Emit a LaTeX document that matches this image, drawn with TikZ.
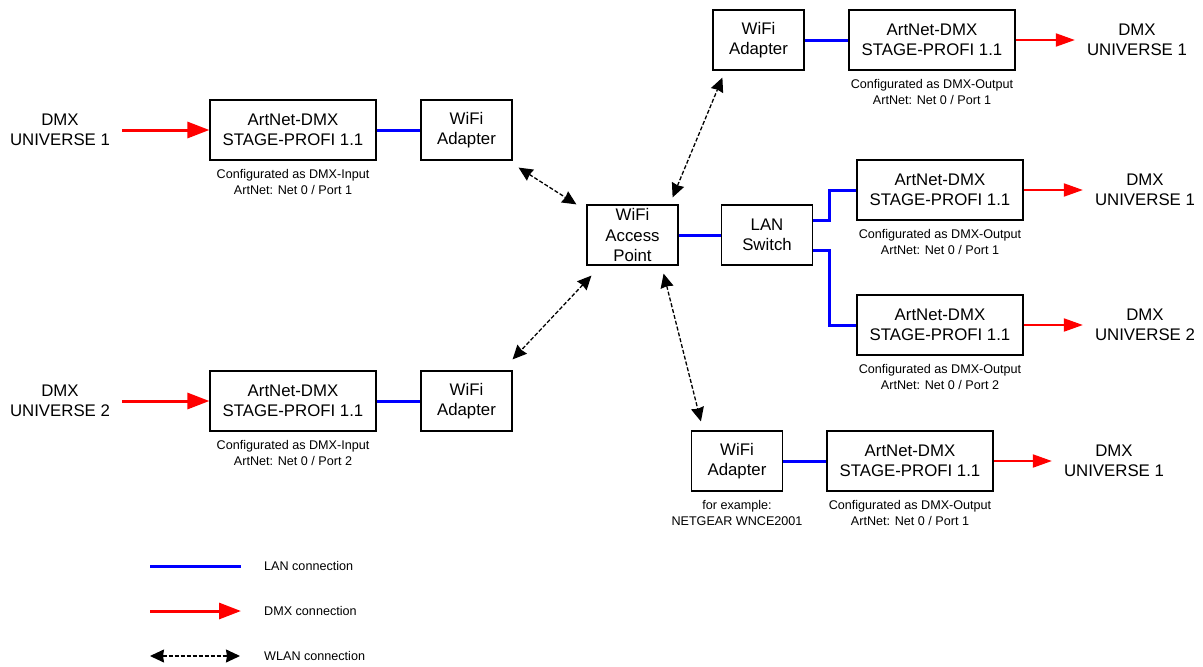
\documentclass[tikz,border=0pt]{standalone}
\usepackage{fontspec}
\setmainfont{Liberation Sans}
\usetikzlibrary{arrows.meta,positioning}
\newcommand\boxfont{\fontsize{16.8}{20.5}\selectfont}
\newcommand\notefont{\fontsize{12.6}{16}\selectfont}
\begin{document}
\begin{tikzpicture}
[ x=1pt, y=-1pt
, device/.style={rectangle, draw, line width=1.2pt, minimum height=60pt, inner ysep=0pt, align=center, font=\boxfont}
, artnet/.style={device, minimum width=166pt}
, wifi/.style={device, minimum width=91pt}
, universe/.style={align=center, font=\boxfont, inner xsep=12pt}
, note/.style={align=center, font=\notefont, inner sep=2pt}
, lan/.style={draw=blue, line width=3pt}
, dmx/.style={draw=red, line width=3pt, -{Triangle[length=22pt,width=16pt]}}
, dmxout/.style={draw=red, line width=2pt, -{Triangle[length=19pt,width=13pt]}}
, wlan/.style={line width=1.3pt, dash pattern=on 4pt off 2pt, {Stealth[length=14pt,width=13pt,inset=1pt]}-{Stealth[length=14pt,width=13pt,inset=1pt]}}
]
\useasboundingbox (0,0) rectangle (1203,667);
% Input side:
\node (u1) [universe] at (60,130) {DMX\\UNIVERSE 1};
\node (an1) [artnet] at (293,130) {ArtNet-DMX\\STAGE-PROFI 1.1};
\node (wa1) [wifi] at (466.5,130) {WiFi\\Adapter};
\node (n1) [note, below=7pt of an1] {Configurated as DMX-Input\\ArtNet: Net 0 / Port 1};
\node (u2) [universe] at (60,401) {DMX\\UNIVERSE 2};
\node (an2) [artnet] at (293,401) {ArtNet-DMX\\STAGE-PROFI 1.1};
\node (wa2) [wifi] at (466.5,401) {WiFi\\Adapter};
\node (n2) [note, below=7pt of an2] {Configurated as DMX-Input\\ArtNet: Net 0 / Port 2};
% Access point and switch:
\node (ap) [wifi] at (632.5,235) {WiFi\\Access\\Point};
\node (sw) [wifi] at (767,235) {LAN\\Switch};
% Output side:
\node (wa3) [wifi] at (758.5,40) {WiFi\\Adapter};
\node (an3) [artnet] at (932,40) {ArtNet-DMX\\STAGE-PROFI 1.1};
\node (n3) [note, below=7pt of an3] {Configurated as DMX-Output\\ArtNet: Net 0 / Port 1};
\node (u3) [universe] at (1137,40) {DMX\\UNIVERSE 1};
\node (an4) [artnet] at (940,190) {ArtNet-DMX\\STAGE-PROFI 1.1};
\node (n4) [note, below=7pt of an4] {Configurated as DMX-Output\\ArtNet: Net 0 / Port 1};
\node (u4) [universe] at (1145,190) {DMX\\UNIVERSE 1};
\node (an5) [artnet] at (940,325) {ArtNet-DMX\\STAGE-PROFI 1.1};
\node (n5) [note, below=7pt of an5] {Configurated as DMX-Output\\ArtNet: Net 0 / Port 2};
\node (u5) [universe] at (1145,325) {DMX\\UNIVERSE 2};
\node (wa4) [wifi] at (737,461) {WiFi\\Adapter};
\node (n6) [note, below=7pt of wa4] {for example:\\NETGEAR WNCE2001};
\node (an6) [artnet] at (910,461) {ArtNet-DMX\\STAGE-PROFI 1.1};
\node (n7) [note, below=7pt of an6] {Configurated as DMX-Output\\ArtNet: Net 0 / Port 1};
\node (u6) [universe] at (1114,461) {DMX\\UNIVERSE 1};
% Connections:
\draw [dmx] (u1) -- (an1);
\draw [dmx] (u2) -- (an2);
\draw [lan] (an1) -- (wa1);
\draw [lan] (an2) -- (wa2);
\draw [lan] (ap) -- (sw);
\draw [lan] (wa3) -- (an3);
\draw [lan] (wa4) -- (an6);
\draw [lan] ([yshift=15pt]sw.east) -- ++(16,0) |- (an4.west);
\draw [lan] ([yshift=-15pt]sw.east) -- ++(16,0) |- (an5.west);
\draw [dmxout] (an3) -- (u3);
\draw [dmxout] (an4) -- (u4);
\draw [dmxout] (an5) -- (u5);
\draw [dmxout] (an6) -- (u6);
\draw [wlan] ([xshift=6pt,yshift=-7pt]wa1.south east) -- ([xshift=-10pt]ap.north west);
\draw [wlan] ([xshift=-6pt,yshift=7pt]ap.north east) -- ([xshift=10pt,yshift=-7pt]wa3.south west);
\draw [wlan] ([xshift=5pt,yshift=-10pt]ap.south west) -- ([yshift=11pt]wa2.north east);
\draw [wlan] ([xshift=-15pt,yshift=-8pt]ap.south east) -- ([xshift=10pt,yshift=9pt]wa4.north west);
% Legend:
\node (lg1) [note, anchor=west, inner sep=4pt] at (260,566) {LAN connection};
\node (lg2) [note, anchor=west, inner sep=4pt] at (260,611) {DMX connection};
\node (lg3) [note, anchor=west, inner sep=4pt] at (260,656) {WLAN connection};
\coordinate (l1) at (150,566);
\coordinate (l2) at (150,611);
\coordinate (l3) at (150,656);
\draw [lan, shorten >=19pt] (l1) -- (lg1.west);
\draw [dmx, shorten >=19pt] (l2) -- (lg2.west);
\draw [wlan, shorten >=20pt] (l3) -- (lg3.west);
\end{tikzpicture}
\end{document}
